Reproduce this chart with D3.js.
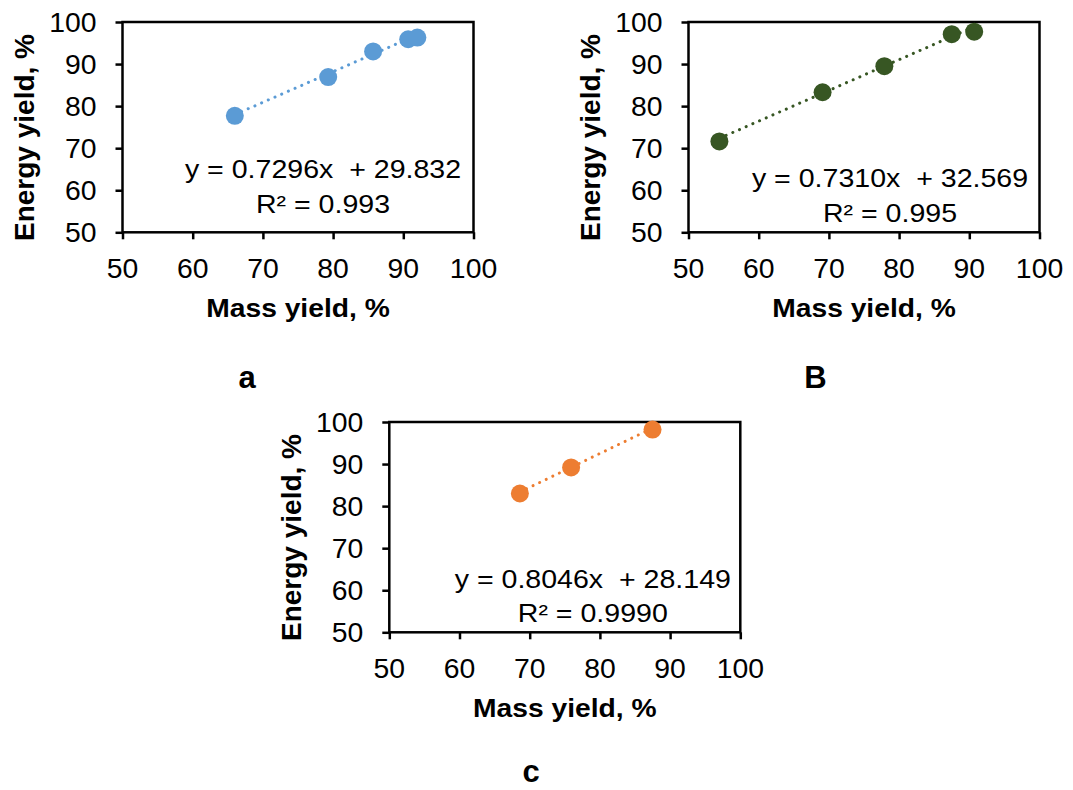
<!DOCTYPE html>
<html>
<head>
<meta charset="utf-8">
<script src="https://cdn.jsdelivr.net/npm/d3@7"></script>
<style>
  html, body { margin: 0; padding: 0; background: #fff; }
  svg { display: block; font-family: 'Liberation Sans', Arial, sans-serif; }
</style>
</head>
<body>
<svg id="chart" width="1073" height="790"></svg>
<script>
// values
const massA = [66.0, 79.3, 85.7, 90.7, 92.0];
const energyA = [77.7, 86.9, 93.0, 95.9, 96.3];
const massB = [54.4, 69.1, 77.9, 87.5, 90.7];
const energyB = [71.6, 83.3, 89.5, 97.1, 97.7];
const massC = [68.6, 75.9, 87.5];
const energyC = [83.0, 89.2, 98.2];

const slopes = [0.7296, 0.7310, 0.8046];
const intercepts = [29.832, 32.569, 28.149];
const eqLabels = ['y = 0.7296x  + 29.832', 'y = 0.7310x  + 32.569', 'y = 0.8046x  + 28.149'];
const r2Labels = ['R² = 0.993', 'R² = 0.995', 'R² = 0.9990'];
const panelLabels = ['a', 'B', 'c'];
const colors = ['#5b9bd5', '#375623', '#ed7d31'];

const axisTicks = [50, 60, 70, 80, 90, 100];
const xTitle = 'Mass yield, %';
const yTitle = 'Energy yield, %';

// panel placement (plot area in page pixels)
const panels = [
  {x: massA, y: energyA, left: 122.5, top: 22, eqX: 200.5, eqY: 156, r2Y: 191, label: [247, 388]},
  {x: massB, y: energyB, left: 688.5, top: 22, eqX: 201.5, eqY: 165, r2Y: 200, label: [815.5, 388]},
  {x: massC, y: energyC, left: 389.3, top: 422, eqX: 203.5, eqY: 166, r2Y: 200, label: [531, 782]}
];
const plotW = 351;
const plotH = 210.3;

const svg = d3.select('#chart');

function addText(parent, str, x, y, opts) {
  opts = opts || {};
  const sx = opts.sx || 1;
  const rot = opts.rotate ? ` rotate(${opts.rotate})` : '';
  return parent
    .append('text')
    .attr('transform', `translate(${x},${y})${rot} scale(${sx},1)`)
    .attr('text-anchor', opts.anchor || 'middle')
    .attr('font-size', opts.size || 26)
    .attr('font-weight', opts.bold ? 'bold' : 'normal')
    .attr('fill', '#000')
    .style('white-space', 'pre')
    .text(str);
}

function drawPanel(p, i) {
  const g = svg.append('g').attr('transform', `translate(${p.left},${p.top})`);

  const x = d3.scaleLinear().domain([50, 100]).range([0, plotW]);
  const y = d3.scaleLinear().domain([50, 100]).range([plotH, 0]);

  // frame
  g.append('rect')
    .attr('width', plotW)
    .attr('height', plotH)
    .attr('fill', 'none')
    .attr('stroke', '#000')
    .attr('stroke-width', 2.5);

  const xAxis = g
    .append('g')
    .attr('transform', `translate(0,${plotH})`)
    .call(d3.axisBottom(x).tickValues(axisTicks).tickSize(7).tickFormat(''));
  const yAxis = g
    .append('g')
    .call(d3.axisLeft(y).tickValues(axisTicks).tickSize(7).tickFormat(''));
  [xAxis, yAxis].forEach(a => {
    a.select('.domain').remove();
    a.selectAll('line').attr('stroke', '#000').attr('stroke-width', 2.5);
  });

  // tick labels
  axisTicks.forEach(t => {
    addText(g, String(t), x(t), plotH + 46, {size: 27, sx: 1.05});
    addText(g, String(t), -26, y(t) + 9.5, {size: 27, sx: 1.05, anchor: 'end'});
  });

  // trendline
  const x0 = d3.min(p.x);
  const x1 = d3.max(p.x);
  const fit = v => slopes[i] * v + intercepts[i];
  g.append('path')
    .datum([x0, x1])
    .attr('d', d3.line().x(d => x(d)).y(d => y(fit(d))))
    .attr('fill', 'none')
    .attr('stroke', colors[i])
    .attr('stroke-width', 3)
    .attr('stroke-linecap', 'round')
    .attr('stroke-dasharray', '0.1,7.2');

  // markers
  g.selectAll('circle')
    .data(p.x.map((d, k) => [d, p.y[k]]))
    .join('circle')
    .attr('cx', d => x(d[0]))
    .attr('cy', d => y(d[1]))
    .attr('r', 9)
    .attr('fill', colors[i]);

  // equation
  addText(g, eqLabels[i], p.eqX, p.eqY, {size: 25.5, sx: 1.12});
  addText(g, r2Labels[i], p.eqX, p.r2Y, {size: 25.5, sx: 1.12});

  // axis titles
  addText(g, xTitle, plotW / 2, plotH + 85, {size: 25, bold: true, sx: 1.13});
  addText(g, yTitle, -88.5, 115.5, {size: 28, bold: true, rotate: -90});

  // panel letter
  addText(svg, panelLabels[i], p.label[0], p.label[1], {size: 31, bold: true});
}

panels.forEach(drawPanel);
</script>
</body>
</html>
